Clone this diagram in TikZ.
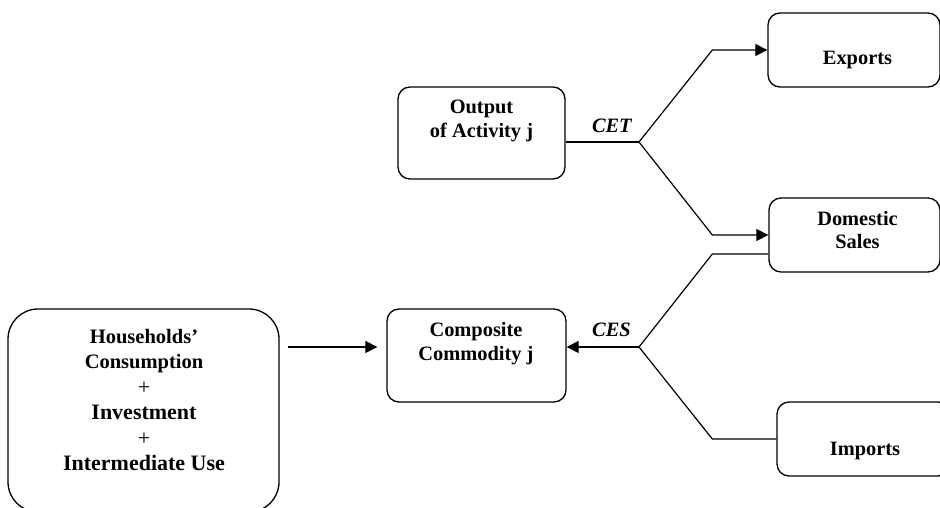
\documentclass[tikz,border=0pt]{standalone}
\usepackage{fontspec}
\setmainfont{Liberation Serif}
\usetikzlibrary{
  arrows.meta,
  positioning}

\tikzset{
  box/.style={draw, rounded corners=12pt, line width=1.3pt, inner sep=0pt},
  txt/.style={font=\fontsize{20.4}{23.5}\selectfont\bfseries, align=center, inner sep=0pt},
  flow/.style={line width=1.2pt},
  arr/.style={-{Triangle[length=12pt,width=12pt]}}
}

\begin{document}
\begin{tikzpicture}[x=1pt,y=-1pt]
\useasboundingbox (0,0) rectangle (940,508);
\clip (0,0) rectangle (940,508);

\node[box, minimum width=167pt, minimum height=92pt] (output) at (481.5,133) {};
\node[txt] (outputtxt) at (481.5,121) {Output\\of Activity j};
\node[box, minimum width=172pt, minimum height=74pt] (exports) at (854,50) {};
\node[txt] (exportstxt) at (857.5,59.5) {Exports};
\node[box, minimum width=171pt, minimum height=74pt] (domestic) at (854.5,235) {};
\node[txt] (domestictxt) at (857.5,230) {Domestic\\Sales};
\node[box, minimum width=173pt, minimum height=74pt] (imports) at (863.5,439) {};
\node[txt] (importstxt) at (865,450.5) {Imports};
\node[box, minimum width=179pt, minimum height=93pt] (composite) at (476.5,355.5) {};
\node[txt] (compositetxt) at (476,343.5) {Composite\\Commodity j};
\node[box, rounded corners=30pt, minimum width=271pt, minimum height=203pt] (households) at (143.5,410.5) {};
\node[txt, font=\fontsize{22}{25.5}\selectfont\bfseries] (householdstxt) at (144,400)
  {\fontsize{20.5}{25}\selectfont Households’\\\fontsize{20.5}{25}\selectfont Consumption\\\mdseries +\\Investment\\\mdseries +\\Intermediate Use};

\coordinate (cet) at (639,142);
\coordinate (ces) at (639,347);

\draw[flow] ([yshift=-9pt]output.east) -- node[pos=0.63, above=9pt, inner sep=0pt, font=\fontsize{20.4}{24}\selectfont\bfseries\itshape] (cetlabel) {CET} (cet);
\draw[flow,arr] (cet) -- ([xshift=-55pt]exports.west) -- (exports.west);
\draw[flow,arr] (cet) -- ([xshift=-56pt]domestic.west) -- (domestic.west);
\draw[flow] ([yshift=-19pt]domestic.west) -- ++(-56,0) -- (ces);
\draw[flow] (ces) -- ([xshift=-64pt]imports.west) -- (imports.west);
\draw[flow,arr] (ces) -- node[pos=0.38, above=10pt, inner sep=0pt, font=\fontsize{20.4}{24}\selectfont\bfseries\itshape] (ceslabel) {CES} (composite.east |- ces);
\draw[flow,arr,shorten >=9pt] (households.east |- ces) ++(8,0) -- (composite.west |- ces);
\end{tikzpicture}
\end{document}
